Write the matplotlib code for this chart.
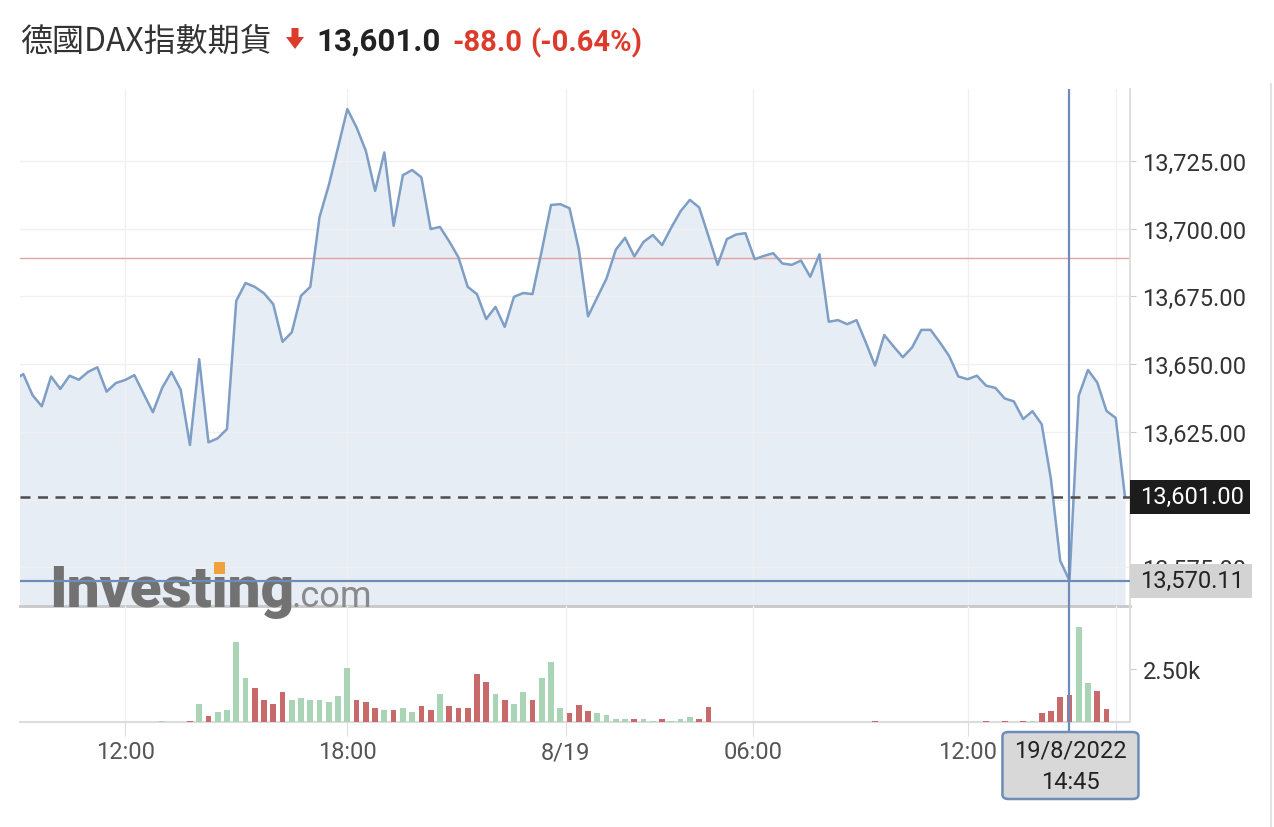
import numpy as np
import matplotlib.pyplot as plt
from matplotlib import transforms
from matplotlib.patches import Rectangle, FancyBboxPatch, Polygon
from matplotlib.lines import Line2D

plt.rcParams['font.family'] = ['Roboto', 'DejaVu Sans']

W, H = 1274, 828

def fx(px):
    return px / W

def fy(py):
    return 1 - py / H

# 15 min closes, 18/8 09:00 -> 19/8 16:15 (index based, gaps skipped)
prices = [
    13644.0,
    13646.3, 13638.5, 13634.4, 13645.4, 13640.8, 13645.7, 13644.2, 13647.1, 13648.8,
    13639.8, 13643.0, 13644.1, 13645.9, 13639.0, 13632.2, 13641.2, 13647.1, 13640.5, 13620.1,
    13651.8, 13621.1, 13622.6, 13626.0, 13673.3, 13679.9, 13678.5, 13676.1, 13672.1, 13658.2,
    13661.7, 13675.2, 13678.5, 13704.3, 13716.0, 13730.0, 13744.1, 13737.3, 13728.7, 13713.9,
    13728.1, 13701.0, 13719.7, 13721.6, 13718.9, 13699.8, 13700.6, 13695.3, 13689.4, 13678.5,
    13675.8, 13666.6, 13671.1, 13663.7, 13674.8, 13676.2, 13675.8, 13691.8, 13708.7, 13709.0,
    13707.5, 13692.4, 13667.6, 13674.6, 13681.6, 13692.2, 13696.6, 13689.7, 13695.1, 13697.6,
    13693.9, 13700.4, 13706.4, 13710.6, 13707.8, 13697.3, 13686.6, 13696.1, 13697.8, 13698.3,
    13688.7, 13689.9, 13690.9, 13687.1, 13686.6, 13688.2, 13682.2, 13690.5, 13665.6, 13666.2,
    13664.7, 13666.2, 13658.0, 13649.4, 13660.7, 13656.5, 13652.5, 13656.1, 13662.6, 13662.6,
    13658.0, 13653.0, 13645.4, 13644.4, 13645.7, 13642.0, 13641.2, 13637.3, 13636.2, 13629.7,
    13632.6, 13627.8, 13607.5, 13577.4, 13570.11, 13638.3, 13647.8, 13643.2, 13632.7, 13630.1,
    13601.0,
]

volumes = [
    0, 0, 0, 0, 0, 0, 0, 0, 0, 0,
    0, 0, 0, 0, 0, 0, 60, 0, 0, 80,
    845, 280, 470, 580, 3750, 2065, 1600, 1030, 845, 1410,
    1030, 1125, 1030, 1030, 940, 1220, 2535, 1030, 940, 660,
    560, 560, 660, 470, 750, 560, 1315, 750, 660, 660,
    2250, 1880, 1315, 1030, 845, 1410, 1030, 2065, 2820, 660,
    450, 820, 530, 437, 343, 155, 155, 155, 155, 60,
    155, 60, 155, 250, 155, 720, 0, 0, 0, 0,
    0, 0, 0, 0, 0, 0, 0, 0, 0, 0,
    0, 0, 0, 50, 0, 0, 0, 0, 0, 0,
    0, 0, 0, 0, 0, 50, 0, 50, 0, 50,
    50, 437, 530, 1190, 1280, 4475, 1845, 1470, 625, 0,
    0,
]

tick_pos = [12, 36, 59.6, 79.8, 103, 119]
tick_labels = ['12:00', '18:00', '8/19', '06:00', '12:00', '']
price_ticks = [13575, 13600, 13625, 13650, 13675, 13700, 13725]
prev_close = 13689.0
last_price = 13601.0
cross_idx = 114
cross_price = 13570.11
cross_date = '19/8/2022'
cross_time = '14:45'

LINE = '#7e9ec5'
FILL = '#e7edf5'
CROSS = '#6d8cb8'
GREEN = '#a9d4b6'
RED = '#c86a6a'

x = np.arange(len(prices))
p = np.array(prices)
chg = np.diff(p, prepend=p[0])
bar_colors = [GREEN if c >= 0 else RED for c in chg]

fig = plt.figure(figsize=(W / 100, H / 100), dpi=100)
ax = fig.add_axes([fx(20), fy(607), fx(1130) - fx(20), fy(90) - fy(607)])
axv = fig.add_axes([fx(20), fy(723.3), fx(1130) - fx(20), fy(607) - fy(723.3)], sharex=ax)
axv.patch.set_alpha(0)

# price panel
ax.fill_between(x, prices, 13500, color=FILL, lw=0, zorder=1)
ax.plot(x, prices, color=LINE, lw=1.8, zorder=3)
ax.set_xlim(0.644, 120.54)
ax.set_ylim(13560.7, 13751.5)
ax.axhline(prev_close, color='#e2a3a3', lw=1, zorder=2)
ax.axhline(last_price, color='#4d4d4d', lw=1.8, ls=(0, (4, 3)), zorder=4)
ax.axhline(cross_price, color=CROSS, lw=1.6, zorder=6)
ax.axvline(cross_idx, color=CROSS, lw=1.6, zorder=6)

ax.set_yticks(price_ticks)
# the 13,600 label sits under the last-price box, so it is left blank
ax.set_yticklabels(['' if v == 13600 else f'{v:,.2f}' for v in price_ticks])
ax.yaxis.tick_right()
ax.tick_params(axis='y', length=4, color='#cccccc', pad=5, labelsize=17, labelcolor='#333333')
ax.set_xticks(tick_pos)
ax.tick_params(axis='x', bottom=False, labelbottom=False)
ax.grid(True, color='#f0f0f0', lw=1)
for s in ['top', 'left']:
    ax.spines[s].set_visible(False)
ax.spines['right'].set_color('#dcdcdc')
ax.spines['right'].set_linewidth(1.3)
ax.spines['bottom'].set_color('#c8c8c8')
ax.spines['bottom'].set_linewidth(2)

# volume panel
axv.bar(x, volumes, width=0.62, color=bar_colors, zorder=3)
axv.set_ylim(0, 5460)
axv.set_yticks([2500])
axv.set_yticklabels(['2.50k'])
axv.yaxis.tick_right()
axv.tick_params(axis='y', length=4, color='#cccccc', pad=5, labelsize=17, labelcolor='#333333')
axv.set_xticks(tick_pos)
axv.set_xticklabels(tick_labels)
axv.tick_params(axis='x', length=10, color='#dddddd', pad=3, labelsize=17, labelcolor='#555555')
axv.xaxis.grid(True, color='#f0f0f0', lw=1)
for s in ['top', 'left']:
    axv.spines[s].set_visible(False)
axv.spines['right'].set_color('#dcdcdc')
axv.spines['right'].set_linewidth(1.3)
axv.spines['bottom'].set_color('#dcdcdc')
axv.spines['bottom'].set_linewidth(1.5)
axv.axvline(cross_idx, ymin=-10 / 116.3, ymax=1, clip_on=False, color=CROSS, lw=1.6, zorder=6)

# right side value boxes
upp = (13751.5 - 13560.7) / (607 - 90)
trans = transforms.blended_transform_factory(ax.transAxes, ax.transData)
ax.add_patch(Rectangle((1.0, last_price - 17 * upp), 120 / 1110, 34 * upp, transform=trans,
                       fc='#1c1c1c', ec='none', clip_on=False, zorder=10))
ax.text(1 + 10 / 1110, last_price, f'{last_price:,.2f}', transform=trans, va='center', ha='left',
        color='white', fontsize=17, zorder=11, clip_on=False)
ax.add_patch(Rectangle((1.0, cross_price - 17 * upp), 122 / 1110, 34 * upp, transform=trans,
                       fc='#d3d3d3', ec='none', clip_on=False, zorder=10))
ax.text(1 + 10 / 1110, cross_price, f'{cross_price:,.2f}', transform=trans, va='center', ha='left',
        color='#222222', fontsize=17, zorder=11, clip_on=False)

# date box under crosshair
cxf = fig.transFigure.inverted().transform(axv.transData.transform((cross_idx, 0)))[0]
fig.add_artist(FancyBboxPatch((cxf - fx(67), fy(800)), fx(136), fy(733) - fy(800),
                              boxstyle='round,pad=0,rounding_size=0.005',
                              transform=fig.transFigure, fc='#d8d8d8', ec=CROSS, lw=1.8))
fig.text(cxf + fx(1), fy(751), cross_date, ha='center', va='center', fontsize=17, color='#222222')
fig.text(cxf + fx(1), fy(783), cross_time, ha='center', va='center', fontsize=17, color='#222222')

# watermark
wm_kw = dict(fontsize=42, fontweight='black', family='Roboto')
ax.text(fx(49), fy(607), 'Investing', transform=fig.transFigure, color='#727272',
        va='baseline', ha='left', zorder=5, clip_on=False, **wm_kw)
ax.text(fx(291), fy(607), '.com', transform=fig.transFigure, color='#8a8a8a',
        va='baseline', ha='left', fontsize=26, zorder=5, clip_on=False)
r = fig.canvas.get_renderer()

def text_w(s):
    t = fig.text(0, 0, s, **wm_kw)
    w = t.get_window_extent(r).width
    t.remove()
    return w

w1, w2 = text_w('Invest'), text_w('Investi')
dot_x = 49 + (w1 + w2) / 2
ax.add_patch(Rectangle((fx(dot_x - 5.5), fy(575)), fx(11), fy(563) - fy(575), transform=fig.transFigure,
                       fc='#f0a33a', ec='none', zorder=5.5, clip_on=False))

# header
fig.text(fx(20), fy(51), '德國DAX指數期貨', fontsize=23, color='#333333',
         family=['Noto Sans CJK TC', 'DejaVu Sans'], va='baseline')
arrow = [(291.5, 29), (298.5, 29), (298.5, 38), (304, 38), (295, 50), (286, 38), (291.5, 38)]
fig.add_artist(Polygon([(fx(a), fy(b)) for a, b in arrow], closed=True, transform=fig.transFigure,
                       fc='#dc3b2c', ec='none'))
fig.text(fx(316), fy(51), f'{last_price:,.1f}', fontsize=22.5, fontweight='bold', color='#222222', va='baseline')
fig.text(fx(452), fy(51), f'{last_price - prev_close:.1f}', fontsize=21, fontweight='bold',
         color='#dc3b2c', va='baseline')
fig.text(fx(530), fy(51), f'({(last_price - prev_close) / prev_close * 100:.2f}%)', fontsize=21,
         fontweight='bold', color='#dc3b2c', va='baseline')

fig.add_artist(Line2D([fx(1271), fx(1271)], [fy(85), 0], transform=fig.transFigure, color='#e3e3e3', lw=1.5))

fig.savefig('out.png', dpi=100)
